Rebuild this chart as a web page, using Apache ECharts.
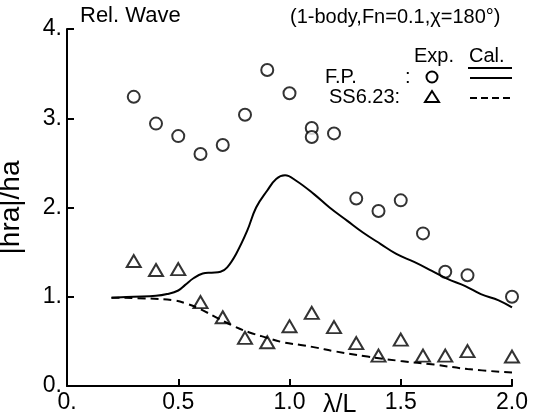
<!DOCTYPE html>
<html>
<head>
<meta charset="utf-8">
<script src="https://cdn.jsdelivr.net/npm/echarts@6/dist/echarts.min.js"></script>
<style>
  html, body { margin: 0; padding: 0; background: #fff; }
  #chart { width: 539px; height: 418px; }
</style>
</head>
<body>
<div id="chart"></div>
<script>
// 실험값 (F.P., 원)
const fpExpX = [0.3, 0.4, 0.5, 0.6, 0.7, 0.8, 0.9, 1.0, 1.1, 1.1, 1.2, 1.3, 1.4, 1.5, 1.6, 1.7, 1.8, 2.0];
const fpExpY = [3.24, 2.94, 2.80, 2.60, 2.70, 3.04, 3.54, 3.28, 2.89, 2.79, 2.83, 2.10, 1.96, 2.08, 1.71, 1.28, 1.24, 1.00];

// 실험값 (SS6.23, 삼각형)
const ssExpX = [0.3, 0.4, 0.5, 0.6, 0.7, 0.8, 0.9, 1.0, 1.1, 1.2, 1.3, 1.4, 1.5, 1.6, 1.7, 1.8, 2.0];
const ssExpY = [1.40, 1.30, 1.31, 0.94, 0.77, 0.54, 0.49, 0.67, 0.82, 0.66, 0.48, 0.34, 0.52, 0.34, 0.34, 0.39, 0.33];

// 계산값 (F.P., 실선)
const fpCalX = [0.20, 0.30, 0.40, 0.45, 0.50, 0.53, 0.57, 0.61, 0.65, 0.69, 0.72, 0.76, 0.81, 0.85, 0.90, 0.94, 0.98, 1.03, 1.11, 1.18, 1.26, 1.33, 1.41, 1.48, 1.56, 1.64, 1.71, 1.79, 1.86, 1.94, 2.00];
const fpCalY = [0.99, 1.00, 1.01, 1.03, 1.07, 1.13, 1.21, 1.26, 1.27, 1.28, 1.33, 1.48, 1.74, 2.00, 2.19, 2.32, 2.36, 2.30, 2.15, 2.00, 1.85, 1.72, 1.59, 1.48, 1.39, 1.29, 1.20, 1.12, 1.03, 0.96, 0.88];

// 계산값 (SS6.23, 점선)
const ssCalX = [0.20, 0.37, 0.48, 0.54, 0.60, 0.67, 0.75, 0.82, 0.90, 0.97, 1.05, 1.12, 1.20, 1.35, 1.50, 1.65, 1.80, 2.00];
const ssCalY = [0.99, 0.98, 0.96, 0.92, 0.86, 0.77, 0.67, 0.60, 0.54, 0.49, 0.46, 0.43, 0.39, 0.33, 0.28, 0.24, 0.19, 0.15];

// 눈금 라벨
const xTickLabels = { 0: '0.', 0.5: '0.5', 1: '1.0', 1.5: '1.5', 2: '2.0' };
const yTickLabels = { 0: '0.', 1: '1.', 2: '2.', 3: '3.', 4: '4.' };

const zip = (xs, ys) => xs.map((x, i) => [x, ys[i]]);

const FONT = 'Liberation Sans';
const chart = echarts.init(document.getElementById('chart'));

const hollow = { color: '#fff', borderColor: '#000', borderWidth: 2 };

const option = {
  animation: false,
  backgroundColor: '#fff',
  grid: { left: 67, right: 27, top: 29, bottom: 32, containLabel: false, outerBoundsMode: 'none' },
  xAxis: {
    type: 'value',
    min: 0,
    max: 2,
    interval: 0.5,
    splitLine: { show: false },
    axisLine: { lineStyle: { color: '#000', width: 2 } },
    axisTick: { inside: true, length: 7, lineStyle: { color: '#000', width: 2 } },
    axisLabel: {
      color: '#000', fontFamily: FONT, fontSize: 23, margin: 5,
      formatter: v => xTickLabels[v] ?? ''
    }
  },
  yAxis: {
    type: 'value',
    min: 0,
    max: 4,
    interval: 1,
    splitLine: { show: false },
    axisLine: { lineStyle: { color: '#000', width: 2 } },
    axisTick: { inside: true, length: 7, lineStyle: { color: '#000', width: 2 } },
    axisLabel: {
      color: '#000', fontFamily: FONT, fontSize: 23, margin: 5,
      verticalAlign: 'middle',
      padding: [0, 0, 8, 0],
      formatter: v => yTickLabels[v] ?? ''
    },
    name: '|hra|/ha',
    nameLocation: 'middle',
    nameRotate: 90,
    nameGap: 42,
    nameTextStyle: { color: '#000', fontFamily: FONT, fontSize: 28 }
  },
  series: [
    {
      name: 'F.P. Cal.',
      type: 'line',
      data: zip(fpCalX, fpCalY),
      smooth: 0.4,
      showSymbol: false,
      lineStyle: { color: '#000', width: 2 }
    },
    {
      name: 'SS6.23 Cal.',
      type: 'line',
      data: zip(ssCalX, ssCalY),
      smooth: 0.4,
      showSymbol: false,
      lineStyle: { color: '#000', width: 2, type: [8, 5] }
    },
    {
      name: 'F.P. Exp.',
      type: 'scatter',
      data: zip(fpExpX, fpExpY),
      symbol: 'circle',
      symbolSize: 12,
      itemStyle: hollow
    },
    {
      name: 'SS6.23 Exp.',
      type: 'scatter',
      data: zip(ssExpX, ssExpY),
      symbol: 'triangle',
      symbolSize: [14, 12],
      itemStyle: hollow
    }
  ],
  graphic: [
    { type: 'text', left: 80, top: 5, style: { text: 'Rel. Wave', font: '22px ' + FONT, fill: '#000' } },
    { type: 'text', left: 290, top: 7, style: { text: '(1-body,Fn=0.1,χ=180°)', font: '20px ' + FONT, fill: '#000' } },
    { type: 'text', left: 414, top: 46, style: { text: 'Exp.', font: '20px ' + FONT, fill: '#000' } },
    { type: 'text', left: 469, top: 46, style: { text: 'Cal.', font: '20px ' + FONT, fill: '#000' } },
    { type: 'line', shape: { x1: 468, y1: 68, x2: 512, y2: 68 }, style: { stroke: '#000', lineWidth: 2 } },
    { type: 'text', left: 325, top: 67, style: { text: 'F.P.', font: '20px ' + FONT, fill: '#000' } },
    { type: 'text', left: 405, top: 67, style: { text: ':', font: '20px ' + FONT, fill: '#000' } },
    { type: 'circle', shape: { cx: 432, cy: 77, r: 5.5 }, style: { fill: '#fff', stroke: '#000', lineWidth: 2 } },
    { type: 'line', shape: { x1: 470, y1: 78, x2: 512, y2: 78 }, style: { stroke: '#000', lineWidth: 2 } },
    { type: 'text', left: 329, top: 87, style: { text: 'SS6.23:', font: '20px ' + FONT, fill: '#000' } },
    { type: 'polygon', shape: { points: [[432, 91], [425, 102], [439, 102]] }, style: { fill: '#fff', stroke: '#000', lineWidth: 2 } },
    { type: 'line', shape: { x1: 470, y1: 98, x2: 512, y2: 98 }, style: { stroke: '#000', lineWidth: 2, lineDash: [7, 4] } },
    { type: 'text', left: 323, top: 393, style: { text: 'λ/L', font: '25px ' + FONT, fill: '#000' } }
  ]
};

chart.setOption(option);
</script>
</body>
</html>
